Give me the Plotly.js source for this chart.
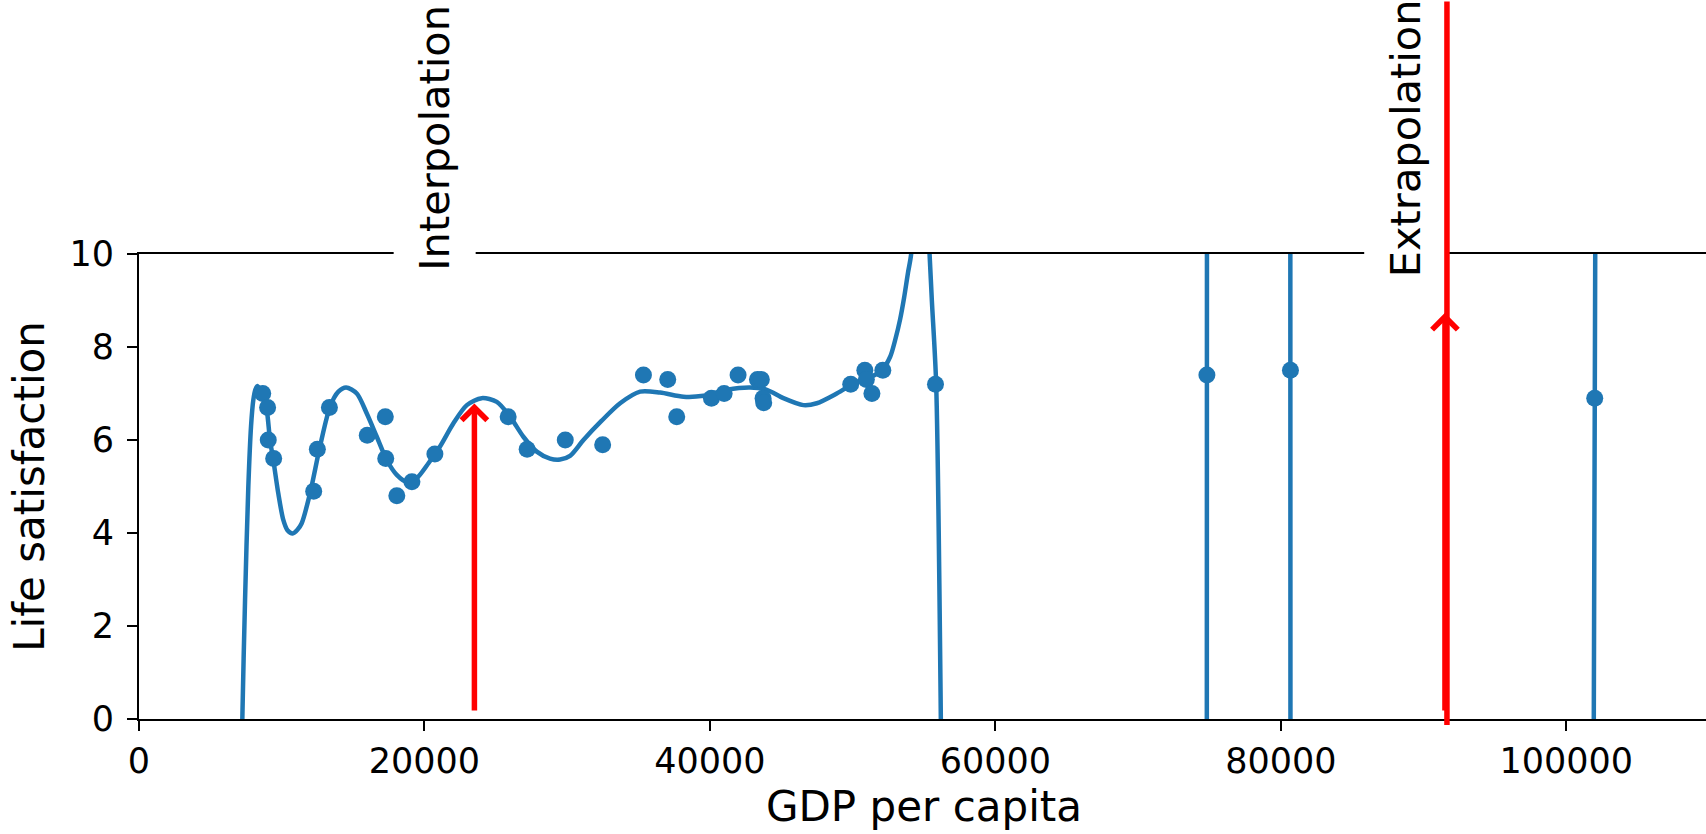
<!DOCTYPE html>
<html>
<head>
<meta charset="utf-8">
<script src="https://cdn.plot.ly/plotly-3.0.1.min.js"></script>
<style>
  html, body { margin: 0; padding: 0; overflow: hidden; background: #fff; }
  #chart { width: 1709px; height: 834px; }
</style>
</head>
<body>
<div id="chart"></div>
<script>
// Countries: GDP per capita (USD) and life satisfaction score
const gdpPerCapita = [
  8670, 9009, 9055, 9437, 12240, 12495, 13341, 15992, 17257, 17288,
  18064, 19122, 20732, 25865, 27195, 29867, 32486, 35343, 37045, 37675,
  40107, 40997, 41974, 43332, 43603, 43724, 43771, 49866, 50855, 50962,
  51351, 52114, 55805, 74822, 80675, 101994
];
const lifeSatisfaction = [
  7.0, 6.7, 6.0, 5.6, 4.9, 5.8, 6.7, 6.1, 6.5, 5.6,
  4.8, 5.1, 5.7, 6.5, 5.8, 6.0, 5.9, 7.4, 7.3, 6.5,
  6.9, 7.0, 7.4, 7.3, 7.3, 6.9, 6.8, 7.2, 7.5, 7.3,
  7.0, 7.5, 7.2, 7.4, 7.5, 6.9
];

// High-degree polynomial model, sampled along GDP per capita
const modelGdp = [
  7150, 7240, 7430, 7660, 7850, 8010, 8150, 8290, 8450, 8710,
  8950, 9180, 9410, 9760, 10110, 10400, 10770, 11100, 11400, 11980,
  12680, 13390, 13970, 14510, 15260, 15960, 16660, 17360, 18060, 18760,
  19460, 20280, 21090, 22030, 22970, 24010, 25070, 26000, 26930, 27870,
  28800, 29500, 30200, 31140, 32400, 33710, 35110, 36510, 38150, 39550,
  41190, 42820, 43990, 45150, 46550, 47490, 48890, 50290, 51300, 52000,
  52630, 52980, 53330, 53600, 53880, 54100, 54400, 54700, 55000, 55200,
  55390, 55550, 55850, 56180, 56250, 56400,
  74790, 74822, 74845,
  80650, 80675, 80700,
  101625, 101994, 102230, 110000
];
const modelSatisfaction = [
  -2, 0, 2.56, 5.0, 6.3, 6.86, 7.08, 7.16, 7.1, 6.93,
  6.65, 6.0, 5.57, 4.85, 4.28, 4.06, 3.99, 4.07, 4.21, 4.85,
  5.86, 6.72, 7.04, 7.13, 7.0, 6.57, 6.07, 5.57, 5.25, 5.10,
  5.18, 5.5, 5.86, 6.36, 6.75, 6.90, 6.82, 6.50, 6.07, 5.75,
  5.6, 5.58, 5.66, 6.0, 6.41, 6.79, 7.04, 7.02, 6.93, 6.95,
  7.08, 7.13, 7.08, 6.90, 6.75, 6.79, 7.0, 7.25, 7.36, 7.48,
  7.79, 8.15, 8.6, 9.05, 9.6, 10.0, 12, 13, 12, 11.1,
  10.0, 9.0, 7.22, 0, -3, -30,
  -30, 7.4, 30,
  30, 7.5, -30,
  -30, 6.9, 30, 30
];

// Query points marked with arrows: [interpolation, extrapolation]
const queryGdp = [23500, 91500];
const queryPrediction = [6.85, 8.8];
const queryLabels = ['Interpolation', 'Extrapolation'];

const xTicks = [0, 20000, 40000, 60000, 80000, 100000];
const xTickText = ['0', '20000', '40000', '60000', '80000', '100000'];
const yTicks = [0, 2, 4, 6, 8, 10];
const yTickText = ['0', '2', '4', '6', '8', '10'];

const FONT = 'DejaVu Sans, Liberation Sans, sans-serif';
const BLUE = '#1f77b4';
const RED = '#ff0000';

// The wiggly part of the model is smoothed; beyond it the model shoots
// straight through the frame, which is drawn as plain segments.
const wildStart = modelGdp.findIndex(v => v > 60000);
const modelLine = { color: BLUE, width: 4.5 };

const traces = [
  {
    x: modelGdp.slice(0, wildStart), y: modelSatisfaction.slice(0, wildStart),
    type: 'scatter', mode: 'lines',
    line: Object.assign({ shape: 'spline', smoothing: 0.8 }, modelLine),
    hoverinfo: 'skip', showlegend: false
  },
  {
    x: modelGdp.slice(wildStart - 1), y: modelSatisfaction.slice(wildStart - 1),
    type: 'scatter', mode: 'lines',
    line: modelLine,
    hoverinfo: 'skip', showlegend: false
  },
  {
    x: gdpPerCapita, y: lifeSatisfaction,
    type: 'scatter', mode: 'markers',
    marker: { color: BLUE, size: 17 },
    showlegend: false
  }
];

const annotations = [];
queryGdp.forEach((gx, i) => {
  // red arrow from the axis up to the predicted value
  annotations.push({
    x: gx, y: queryPrediction[i], ax: gx, ay: 0,
    xref: 'x', yref: 'y', axref: 'x', ayref: 'y',
    text: '', showarrow: true,
    arrowhead: 4, arrowsize: 0.9, arrowwidth: 5.5, arrowcolor: RED,
    standoff: 3, startstandoff: 7
  });
  // rotated label sitting on the top frame, boxed in white
  annotations.push({
    x: gx, xref: 'x', y: 1.25, yref: 'paper',
    text: queryLabels[i], textangle: -90, showarrow: false,
    xanchor: 'right', yanchor: 'middle', xshift: 2,
    bgcolor: '#ffffff', borderpad: 16,
    font: { family: FONT, size: 41.5, color: '#000' }
  });
});
// prediction line for the extrapolated point, running through the whole figure
annotations.push({
  x: queryGdp[1], xref: 'x', y: -0.013, yref: 'paper',
  ax: 0, ay: -820, axref: 'pixel', ayref: 'pixel',
  text: '', showarrow: true, arrowhead: 0, arrowwidth: 5.5, arrowcolor: RED,
  standoff: 0, xshift: 2
});

const layout = {
  width: 1709, height: 834,
  margin: { l: 139, r: 0, t: 254, b: 115 },
  paper_bgcolor: '#fff', plot_bgcolor: '#fff',
  font: { family: FONT, color: '#000' },
  showlegend: false,
  xaxis: {
    range: [0, 110000],
    tickmode: 'array', tickvals: xTicks, ticktext: xTickText,
    showgrid: false, zeroline: false,
    showline: true, mirror: true, linecolor: '#000', linewidth: 2,
    ticks: 'outside', ticklen: 10, tickwidth: 2, tickcolor: '#000',
    tickfont: { family: FONT, size: 35, color: '#000' },
    title: { text: 'GDP per capita', font: { family: FONT, size: 42, color: '#000' }, standoff: 12 }
  },
  yaxis: {
    range: [0, 10],
    tickmode: 'array', tickvals: yTicks, ticktext: yTickText,
    showgrid: false, zeroline: false,
    showline: true, linecolor: '#000', linewidth: 2,
    ticks: 'outside', ticklen: 10, tickwidth: 2, tickcolor: '#000',
    ticklabelstandoff: 6,
    tickfont: { family: FONT, size: 35, color: '#000' },
    title: { text: 'Life satisfaction', font: { family: FONT, size: 42, color: '#000' }, standoff: 12 }
  },
  annotations: annotations
};

Plotly.newPlot('chart', traces, layout, { displayModeBar: false, staticPlot: true });
</script>
</body>
</html>
